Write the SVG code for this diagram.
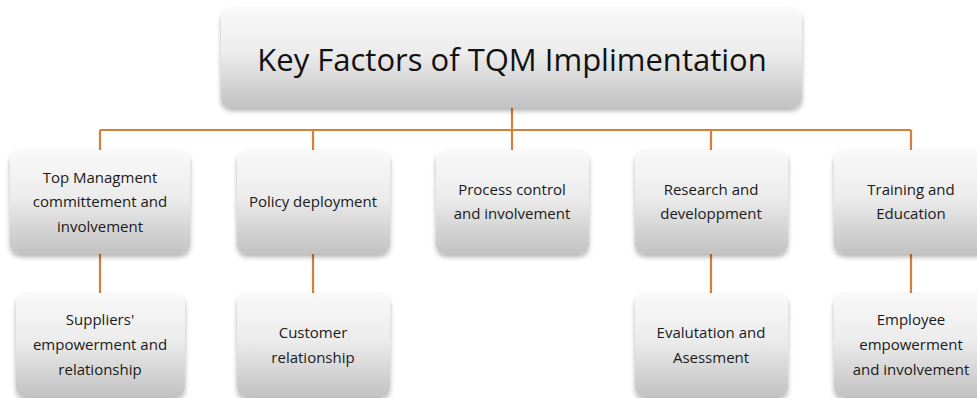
<svg xmlns="http://www.w3.org/2000/svg" width="977" height="398" viewBox="0 0 977 398">
  <defs>
    <linearGradient id="boxFill" x1="0" y1="0" x2="0" y2="1">
      <stop offset="0" stop-color="#f9f9f9"/>
      <stop offset="0.45" stop-color="#ececec"/>
      <stop offset="1" stop-color="#c2c2c2"/>
    </linearGradient>
    <filter id="shadow" x="-10%" y="-10%" width="120%" height="130%">
      <feGaussianBlur in="SourceAlpha" stdDeviation="2.5"/>
      <feOffset dx="0" dy="3" result="b"/>
      <feComponentTransfer><feFuncA type="linear" slope="0.3"/></feComponentTransfer>
      <feMerge><feMergeNode/><feMergeNode in="SourceGraphic"/></feMerge>
    </filter>
  </defs>
  <style>
    .box { fill: url(#boxFill); filter: url(#shadow); }
    .lbl { font-family: "Open Sans", "Noto Sans", "Liberation Sans", sans-serif; font-size: 15px; fill: #1a1a1a; text-anchor: middle; }
    .title { font-family: "Open Sans", "Noto Sans", "Liberation Sans", sans-serif; font-size: 31px; fill: #111; text-anchor: middle; }
    .conn { stroke: #d47f3a; stroke-width: 2.2; fill: none; }
  </style>
  <rect width="977" height="398" fill="#ffffff"/>

  <g id="connectors">
    <path class="conn" d="M512 108 V130 M100 130 H911 M100 130 V150 M313 130 V150 M512 130 V150 M711 130 V150 M911 130 V150"/>
    <path class="conn" d="M100 254 V293 M313 254 V293 M711 254 V293 M911 254 V293"/>
  </g>

  <g id="title">
    <rect class="box" x="221" y="8" width="581" height="100" rx="10"/>
    <text class="title" x="512" y="71">Key Factors of TQM Implimentation</text>
  </g>

  <g id="top-management">
    <rect class="box" x="10" y="150" width="180" height="104" rx="10"/>
    <text class="lbl" x="100" y="183">Top Managment</text>
    <text class="lbl" x="100" y="207">committement and</text>
    <text class="lbl" x="100" y="232">involvement</text>
  </g>
  <g id="policy-deployment">
    <rect class="box" x="237" y="150" width="153" height="104" rx="10"/>
    <text class="lbl" x="313" y="207">Policy deployment</text>
  </g>
  <g id="process-control">
    <rect class="box" x="436" y="150" width="153" height="104" rx="10"/>
    <text class="lbl" x="512" y="195">Process control</text>
    <text class="lbl" x="512" y="219">and involvement</text>
  </g>
  <g id="research">
    <rect class="box" x="635" y="150" width="153" height="104" rx="10"/>
    <text class="lbl" x="711" y="195">Research and</text>
    <text class="lbl" x="711" y="219">developpment</text>
  </g>
  <g id="training">
    <rect class="box" x="834" y="150" width="154" height="104" rx="10"/>
    <text class="lbl" x="911" y="195">Training and</text>
    <text class="lbl" x="911" y="219">Education</text>
  </g>

  <g id="suppliers">
    <rect class="box" x="16" y="293" width="169" height="104" rx="10"/>
    <text class="lbl" x="100" y="325">Suppliers'</text>
    <text class="lbl" x="100" y="350">empowerment and</text>
    <text class="lbl" x="100" y="375">relationship</text>
  </g>
  <g id="customer">
    <rect class="box" x="237" y="293" width="153" height="104" rx="10"/>
    <text class="lbl" x="313" y="338">Customer</text>
    <text class="lbl" x="313" y="363">relationship</text>
  </g>
  <g id="evaluation">
    <rect class="box" x="635" y="293" width="153" height="104" rx="10"/>
    <text class="lbl" x="711" y="338">Evalutation and</text>
    <text class="lbl" x="711" y="363">Asessment</text>
  </g>
  <g id="employee">
    <rect class="box" x="834" y="293" width="154" height="104" rx="10"/>
    <text class="lbl" x="911" y="325">Employee</text>
    <text class="lbl" x="911" y="350">empowerment</text>
    <text class="lbl" x="911" y="375">and involvement</text>
  </g>
</svg>
